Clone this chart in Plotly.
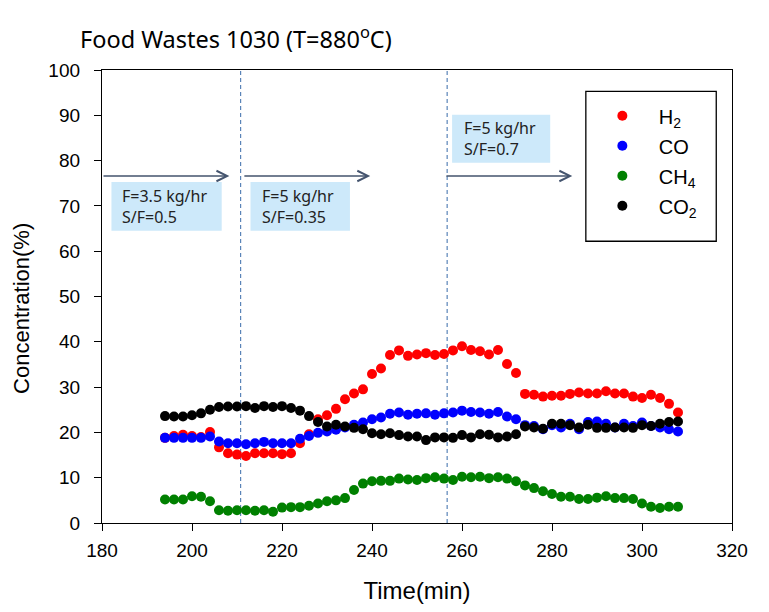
import plotly.graph_objects as go

# ---------------- data ----------------
time_min = list(range(194, 310, 2))

h2 = [18.8, 19.2, 19.5, 19.2, 19.0, 20.1, 16.7, 15.4, 15.1, 14.8,
      15.4, 15.4, 15.4, 15.2, 15.4, 17.6, 19.6, 22.9, 23.8, 25.2,
      27.3, 28.6, 29.5, 32.9, 34.1, 37.1, 38.1, 36.9, 37.2, 37.5,
      37.1, 37.3, 38.1, 39.0, 38.2, 37.9, 37.2, 38.2, 35.1, 33.1,
      28.5, 28.3, 27.9, 28.1, 28.1, 28.5, 28.8, 28.6, 28.6, 29.1,
      28.6, 28.6, 27.9, 27.6, 28.3, 27.6, 26.3, 24.4]

co = [18.8, 18.8, 18.8, 18.8, 18.8, 19.1, 18.0, 17.6, 17.6, 17.4,
      17.6, 17.9, 17.6, 17.6, 17.6, 18.6, 19.2, 19.9, 20.2, 20.6,
      21.1, 21.7, 22.2, 22.9, 23.3, 24.1, 24.4, 23.9, 24.1, 24.2,
      23.9, 24.2, 24.4, 24.8, 24.5, 24.4, 24.1, 24.5, 23.5, 22.9,
      21.6, 21.4, 20.7, 21.6, 21.1, 21.9, 20.7, 22.3, 22.4, 21.9,
      21.1, 21.9, 21.4, 22.2, 21.4, 21.1, 20.7, 20.2]

ch4 = [5.2, 5.2, 5.2, 5.9, 5.8, 4.8, 2.8, 2.7, 2.8, 2.8,
       2.7, 2.8, 2.5, 3.4, 3.5, 3.5, 3.8, 4.3, 4.8, 5.0,
       5.5, 7.3, 8.7, 9.2, 9.3, 9.3, 9.8, 9.6, 9.5, 9.9,
       10.1, 9.8, 9.5, 10.2, 10.1, 10.2, 9.9, 10.1, 9.8, 9.2,
       8.3, 7.7, 7.0, 6.4, 5.8, 5.8, 5.3, 5.3, 5.6, 5.9,
       5.5, 5.5, 5.3, 4.3, 3.6, 3.3, 3.6, 3.6]

co2 = [23.6, 23.5, 23.5, 23.8, 24.2, 25.0, 25.6, 25.7, 25.7, 25.8,
       25.4, 25.8, 25.6, 25.8, 25.4, 24.8, 23.6, 22.3, 21.3, 21.7,
       21.3, 21.0, 20.7, 19.8, 19.6, 19.8, 19.4, 19.1, 19.1, 18.3,
       18.9, 18.9, 18.8, 19.4, 18.9, 19.6, 19.5, 18.9, 19.1, 19.6,
       21.3, 21.1, 20.8, 21.9, 21.9, 21.6, 21.1, 21.7, 21.0, 21.0,
       21.1, 21.1, 21.0, 21.6, 21.4, 21.9, 22.3, 22.4]

series_names = ["H<sub>2</sub>", "CO", "CH<sub>4</sub>", "CO<sub>2</sub>"]
series_colors = ["#ff0000", "#0000ff", "#008000", "#000000"]

x_ticks = [180, 200, 220, 240, 260, 280, 300, 320]
y_ticks = [0, 10, 20, 30, 40, 50, 60, 70, 80, 90, 100]

# condition changes
change_times = [210.8, 256.7]
arrow_level = 76.6
arrow_spans = [(180.0, 208.3), (211.3, 239.6), (256.2, 284.5)]
cond_labels = ["F=3.5 kg/hr<br>S/F=0.5", "F=5 kg/hr<br>S/F=0.35", "F=5 kg/hr<br>S/F=0.7"]
cond_boxes = [(182.1, 206.6, 64.5, 75.3), (213.0, 235.1, 64.5, 75.3), (257.8, 279.6, 79.5, 90.1)]
cond_text_x = [184.1, 215.2, 259.9]

# ---------------- figure ----------------
fig = go.Figure()
for name, vals, col in zip(series_names, [h2, co, ch4, co2], series_colors):
    fig.add_trace(go.Scatter(
        x=time_min, y=vals, mode="markers", name=name, legendgroup=name,
        marker=dict(color=col, size=10, line=dict(width=0)),
    ))

shapes = []
for t in change_times:
    shapes.append(dict(type="line", xref="x", yref="paper", x0=t, x1=t, y0=0, y1=1,
                       line=dict(color="#5a84b8", width=1.2, dash="4px,3px"), layer="below"))
for (x0, x1, y0, y1) in cond_boxes:
    shapes.append(dict(type="rect", xref="x", yref="y", x0=x0, x1=x1, y0=y0, y1=y1,
                       fillcolor="#cde9fa", line=dict(width=0), layer="below"))
# legend frame
shapes.append(dict(type="rect", xref="paper", yref="paper", x0=0.768, x1=0.975, y0=0.622, y1=0.953,
                   line=dict(color="black", width=1.3), fillcolor="white", layer="above"))

annotations = []
for (a0, a1) in arrow_spans:
    annotations.append(dict(x=a1, y=arrow_level, ax=a0, ay=arrow_level, xref="x", yref="y",
                            axref="x", ayref="y", text="", showarrow=True, arrowhead=5,
                            arrowsize=1.6, arrowwidth=1.3, arrowcolor="#44546e", standoff=0))
for tx, (x0, x1, y0, y1), lab in zip(cond_text_x, cond_boxes, cond_labels):
    annotations.append(dict(x=tx, y=(y0 + y1) / 2, xref="x", yref="y", text=lab, showarrow=False,
                            xanchor="left", yanchor="middle", align="left",
                            font=dict(family="Noto Sans", size=16, color="#222222")))
annotations.append(dict(x=-0.0386, y=1.072, xref="paper", yref="paper", xanchor="left", yanchor="middle",
                        text="Food Wastes 1030 (T=880<sup>o</sup>C)", showarrow=False,
                        font=dict(family="Noto Sans", size=23.5, color="black")))
annotations.append(dict(x=-0.1275, y=0.474, xref="paper", yref="paper", xanchor="center", yanchor="middle",
                        text="Concentration(%)", textangle=-90, showarrow=False,
                        font=dict(family="Liberation Sans", size=22, color="black")))

fig.update_layout(
    width=761, height=604,
    margin=dict(l=94, r=37, t=62, b=89),
    paper_bgcolor="white", plot_bgcolor="white",
    font=dict(family="Liberation Sans", size=19, color="black"),
    shapes=shapes, annotations=annotations,
    showlegend=True,
    legend=dict(x=0.768, y=0.942, xanchor="left", yanchor="top", bgcolor="rgba(0,0,0,0)",
                borderwidth=0, font=dict(family="Liberation Sans", size=20, color="black"),
                tracegroupgap=1, itemwidth=63),
)
fig.update_xaxes(range=[180, 320], tickvals=x_ticks, ticks="outside", ticklen=7, tickwidth=1.3,
                 tickcolor="black", showline=True, linecolor="black", linewidth=1.3, mirror=True,
                 ticklabelstandoff=3,
                 showgrid=False, zeroline=False, title=dict(text="Time(min)", font=dict(size=24), standoff=22))
fig.update_yaxes(range=[0, 100], tickvals=y_ticks, ticks="outside", ticklen=7, tickwidth=1.3,
                 tickcolor="black", showline=True, linecolor="black", linewidth=1.3, mirror=True,
                 ticklabelstandoff=10,
                 showgrid=False, zeroline=False)

fig.write_html("out.html")
